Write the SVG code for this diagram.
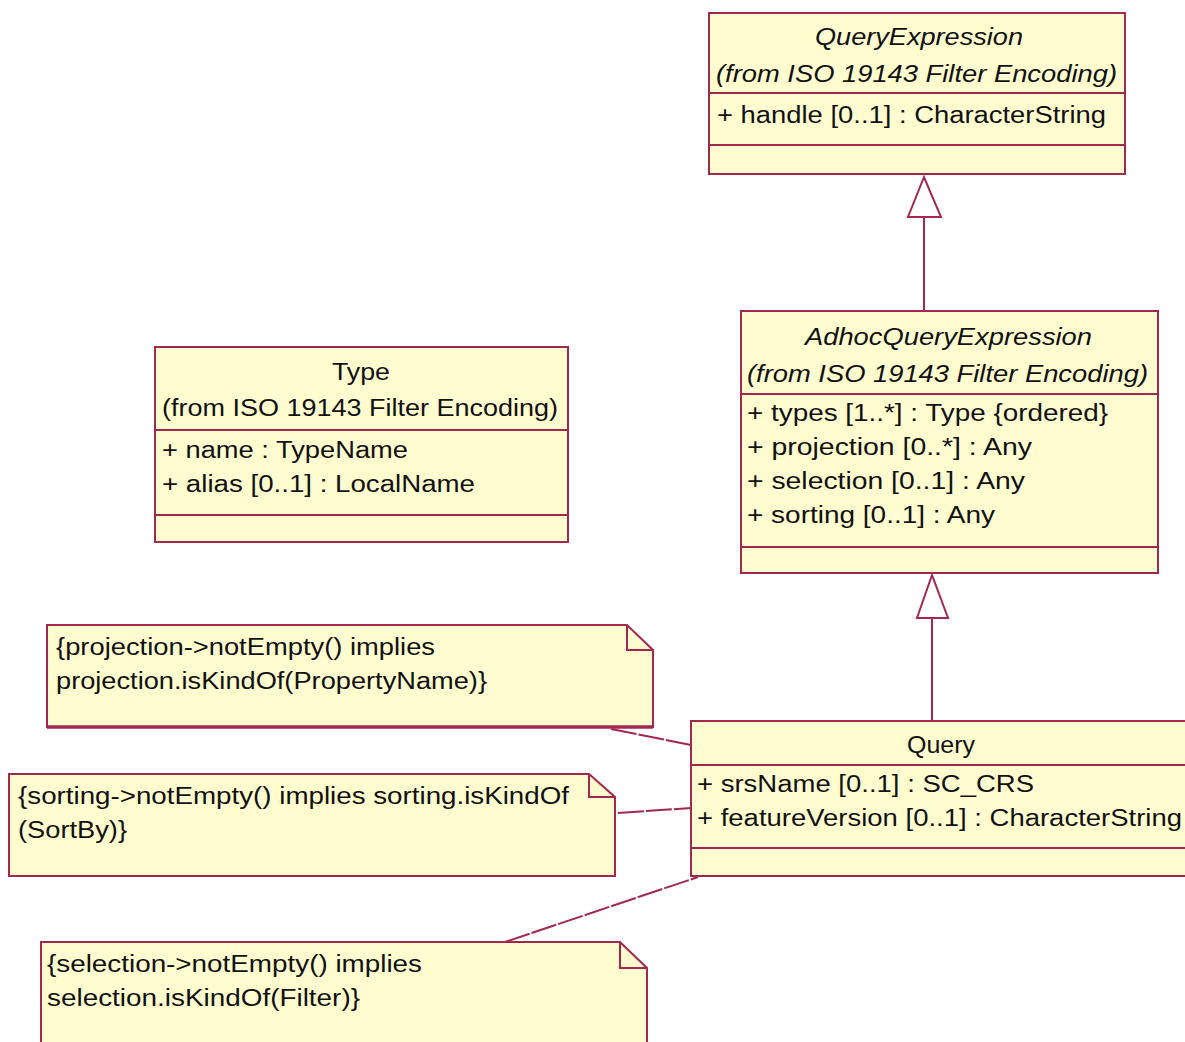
<svg xmlns="http://www.w3.org/2000/svg" width="1185" height="1042" viewBox="0 0 1185 1042">
<style>
.box{fill:#FFFDD0;stroke:#A3284F;stroke-width:2}
.ln{stroke:#A3284F;stroke-width:2;fill:none}
.tri{fill:#FFFFFF;stroke:#A3284F;stroke-width:2}
.anchor{stroke:#A3284F;stroke-width:2;fill:none;stroke-dasharray:26 2}
text{font-family:"Liberation Sans",Arial,sans-serif;font-size:23px;fill:#111}
.it{font-style:italic}
</style>
<rect width="1185" height="1042" fill="#FFFFFF"/>
<g id="connectors">
<line class="ln" x1="924" y1="217" x2="924" y2="311"/>
<polygon class="tri" points="924,177 908,217 941,217"/>
<line class="ln" x1="932" y1="618" x2="932" y2="721"/>
<polygon class="tri" points="932,575 917,618 948,618"/>
<line class="anchor" x1="611" y1="729" x2="691" y2="745"/>
<line class="anchor" x1="618" y1="813" x2="691" y2="808"/>
<line class="anchor" x1="505" y1="942" x2="698" y2="877"/>
</g>
<g id="QueryExpression">
<rect class="box" x="709" y="13" width="416" height="161"/>
<line class="ln" x1="709" y1="93" x2="1125" y2="93"/>
<line class="ln" x1="709" y1="145" x2="1125" y2="145"/>
<text class="it" x="815" y="45" textLength="208" lengthAdjust="spacingAndGlyphs">QueryExpression</text>
<text class="it" x="716" y="82" textLength="401" lengthAdjust="spacingAndGlyphs">(from ISO 19143 Filter Encoding)</text>
<text x="717" y="123" textLength="389" lengthAdjust="spacingAndGlyphs">+ handle [0..1] : CharacterString</text>
</g>
<g id="AdhocQueryExpression">
<rect class="box" x="741" y="311" width="417" height="262"/>
<line class="ln" x1="741" y1="394" x2="1158" y2="394"/>
<line class="ln" x1="741" y1="547" x2="1158" y2="547"/>
<text class="it" x="805" y="345" textLength="287" lengthAdjust="spacingAndGlyphs">AdhocQueryExpression</text>
<text class="it" x="747" y="382" textLength="401" lengthAdjust="spacingAndGlyphs">(from ISO 19143 Filter Encoding)</text>
<text x="747" y="421" textLength="361" lengthAdjust="spacingAndGlyphs">+ types [1..*] : Type {ordered}</text>
<text x="747" y="455" textLength="285" lengthAdjust="spacingAndGlyphs">+ projection [0..*]  : Any</text>
<text x="747" y="489" textLength="278" lengthAdjust="spacingAndGlyphs">+ selection [0..1] : Any</text>
<text x="747" y="523" textLength="248" lengthAdjust="spacingAndGlyphs">+ sorting [0..1] : Any</text>
</g>
<g id="Type">
<rect class="box" x="155" y="347" width="413" height="195"/>
<line class="ln" x1="155" y1="430" x2="568" y2="430"/>
<line class="ln" x1="155" y1="515" x2="568" y2="515"/>
<text x="332" y="380" textLength="58" lengthAdjust="spacingAndGlyphs">Type</text>
<text x="162" y="416" textLength="396" lengthAdjust="spacingAndGlyphs">(from ISO 19143 Filter Encoding)</text>
<text x="162" y="458" textLength="246" lengthAdjust="spacingAndGlyphs">+ name : TypeName</text>
<text x="162" y="492" textLength="313" lengthAdjust="spacingAndGlyphs">+ alias [0..1] : LocalName</text>
</g>
<g id="Query">
<rect class="box" x="691" y="721" width="600" height="155"/>
<line class="ln" x1="691" y1="765" x2="1185" y2="765"/>
<line class="ln" x1="691" y1="848" x2="1185" y2="848"/>
<text x="907" y="753" textLength="68" lengthAdjust="spacingAndGlyphs">Query</text>
<text x="697" y="792" textLength="337" lengthAdjust="spacingAndGlyphs">+  srsName [0..1] :  SC_CRS</text>
<text x="697" y="826" textLength="485" lengthAdjust="spacingAndGlyphs">+  featureVersion [0..1] : CharacterString</text>
</g>
<g id="NoteProjection">
<path class="box" d="M47,625 H627 L653,650 V727 H47 Z"/>
<path class="ln" d="M627,625 V650 H653"/>
<line x1="47" y1="727" x2="653" y2="727" stroke="#A3284F" stroke-width="3.5"/>
<text x="56" y="655" textLength="379" lengthAdjust="spacingAndGlyphs">{projection-&gt;notEmpty() implies</text>
<text x="56" y="689" textLength="431" lengthAdjust="spacingAndGlyphs">projection.isKindOf(PropertyName)}</text>
</g>
<g id="NoteSorting">
<path class="box" d="M9,774 H589 L615,797 V876 H9 Z"/>
<path class="ln" d="M589,774 V797 H615"/>
<text x="18" y="804" textLength="551" lengthAdjust="spacingAndGlyphs">{sorting-&gt;notEmpty() implies sorting.isKindOf</text>
<text x="18" y="838" textLength="109" lengthAdjust="spacingAndGlyphs">(SortBy)}</text>
</g>
<g id="NoteSelection">
<path class="box" d="M41,942 H620 L647,968 V1052 H41 Z"/>
<path class="ln" d="M620,942 V968 H647"/>
<text x="47" y="972" textLength="375" lengthAdjust="spacingAndGlyphs">{selection-&gt;notEmpty() implies</text>
<text x="47" y="1006" textLength="313" lengthAdjust="spacingAndGlyphs">selection.isKindOf(Filter)}</text>
</g>
</svg>
